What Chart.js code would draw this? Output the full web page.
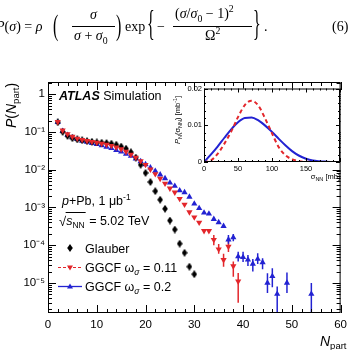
<!DOCTYPE html>
<html>
<head>
<meta charset="utf-8">
<script src="https://cdn.jsdelivr.net/npm/chart.js@4"></script>
<style>
  html, body { margin: 0; padding: 0; background: #fff; }
  #wrap { position: relative; width: 352px; height: 350px; overflow: hidden; }
  #main { position: absolute; left: 0; top: 0; }
  #inset { position: absolute; left: 165px; top: 82px; }
  #formula { position: absolute; left: 0; top: 0; width: 352px; height: 56px;
    font-family: 'Liberation Serif', 'Times New Roman', serif; font-size: 14px; color: #000; }
  #formula span, #formula div { position: absolute; line-height: 1; white-space: nowrap; }
  #formula .paren { font-size: 16px; transform: scale(1, 1.9); transform-origin: 0 0; }
  #formula .brace { font-size: 16px; transform: scale(1, 2.3); transform-origin: 0 0; }
  #formula .bar { height: 1px; background: #000; }
  #formula sub, #formula sup { font-size: 70%; line-height: 0; }
</style>
</head>
<body>
<div id="wrap">
  <canvas id="main" width="352" height="350"></canvas>
  <canvas id="inset" width="180" height="104"></canvas>
  <div id="formula">
    <span style="left:-4px; top:20px;"><i>P</i>(<i>σ</i>) = <i>ρ</i></span>
    <span class="paren" style="left:53px; top:10px;">(</span>
    <span style="left:90px; top:8px;"><i>σ</i></span>
    <div class="bar" style="left:72px; top:26px; width:43px;"></div>
    <span style="left:74px; top:29px;"><i>σ</i> + <i>σ</i><sub>0</sub></span>
    <span class="paren" style="left:116px; top:10px;">)</span>
    <span style="left:125px; top:20px;">exp</span>
    <span class="brace" style="left:147px; top:5px;">{</span>
    <span style="left:157px; top:20px;">−</span>
    <span style="left:175px; top:7px;">(<i>σ</i>/<i>σ</i><sub>0</sub> − 1)<sup>2</sup></span>
    <div class="bar" style="left:173px; top:26px; width:79px;"></div>
    <span style="left:205px; top:29px;">Ω<sup>2</sup></span>
    <span class="brace" style="left:253px; top:5px;">}</span>
    <span style="left:264px; top:20px;">.</span>
    <span style="left:332px; top:20px;">(6)</span>
  </div>
</div>
<script>
// N_part distributions, values
const nGlauber = [2, 3, 4, 5, 6, 7, 8, 9, 10, 11, 12, 13, 14, 15, 16, 17, 18, 19, 20, 21, 22, 23, 24, 25, 26, 27, 28, 29, 30];
const pGlauber = [0.18, 0.100, 0.078, 0.068, 0.063, 0.060, 0.057, 0.055, 0.053, 0.052, 0.051, 0.049, 0.046, 0.041, 0.036,
  0.029, 0.021, 0.0135, 0.0082, 0.0047, 0.0027, 0.0016, 0.00092, 0.00045, 0.00026, 0.00011, 0.000063, 0.000027, 0.000017];

const nGgcf011 = [2, 3, 4, 5, 6, 7, 8, 9, 10, 11, 12, 13, 14, 15, 16, 17, 18, 19, 20, 21, 22, 23, 24, 25, 26, 27, 28, 29, 30,
  31, 32, 33, 34, 35, 36, 37, 38, 39];
const pGgcf011 = [0.185, 0.110, 0.088, 0.075, 0.067, 0.062, 0.058, 0.055, 0.052, 0.049, 0.046, 0.043, 0.039, 0.035, 0.030,
  0.025, 0.021, 0.017, 0.0135, 0.0102, 0.0077, 0.0058, 0.0043, 0.0032, 0.0025, 0.0017, 0.0012, 0.00075, 0.00055,
  0.00040, 0.00024, 0.00024, 0.00014, 0.000078, 0.000041, 0.000092, 0.000028, 0.000011];

const nGgcf02 = [2, 3, 4, 5, 6, 7, 8, 9, 10, 11, 12, 13, 14, 15, 16, 17, 18, 19, 20, 21, 22, 23, 24, 25, 26, 27, 28, 29, 30,
  31, 32, 33, 34, 35, 36, 37, 38, 39, 40, 41, 42, 43, 44, 45, 46, 47, 49, 54];
const pGgcf02 = [0.18, 0.105, 0.083, 0.071, 0.064, 0.058, 0.054, 0.050, 0.047, 0.044, 0.040, 0.037, 0.033, 0.030, 0.026,
  0.023, 0.0195, 0.0165, 0.0138, 0.0113, 0.0092, 0.0074, 0.0059, 0.0045, 0.0037, 0.0028, 0.0025, 0.0019, 0.00125,
  0.00095, 0.00072, 0.00068, 0.00049, 0.00040, 0.00032, 0.00014, 0.00016, 0.000050, 0.000048, 0.000041, 0.000032,
  0.000043, 0.000035, 0.000010, 0.000015, 0.0000051, 0.000010, 0.0000051];

// vertical error bars where they are visible
const errN011 = [34, 35, 36, 37, 38, 39];
const errLo011 = [0.00010, 0.000059, 0.000027, 0.000066, 0.0000147, 0.0000030];
const errHi011 = [0.000186, 0.000107, 0.000059, 0.000129, 0.000037, 0.0000183];
const errN02 = [37, 38, 39, 40, 41, 42, 43, 44, 45, 46, 47, 49, 54];
const errLo02 = [0.00011, 0.000128, 0.000037, 0.000036, 0.000028, 0.000020, 0.000032, 0.000023, 0.0000054, 0.0000077, 0.000001, 0.0000054, 0.000001];
const errHi02 = [0.000186, 0.000197, 0.000067, 0.000067, 0.000055, 0.000043, 0.000061, 0.000045, 0.000018, 0.0000245, 0.000008, 0.000019, 0.000010];

// inset: P_N(sigma_NN)
const sigmaNN = [0, 10, 20, 30, 40, 50, 60, 70, 80, 90, 100, 110, 120, 130, 140, 150, 160, 170, 180, 190, 200];
const pSigma011 = [0, 0.0004, 0.0022, 0.0050, 0.0083, 0.0122, 0.0155, 0.0167, 0.0153, 0.0118, 0.0078, 0.0040, 0.0018,
  0.0007, 0.0002, 0.00005, 0, 0, 0, 0, 0];
const pSigma02 = [0, 0.0020, 0.0042, 0.0066, 0.0089, 0.0108, 0.0120, 0.0121, 0.0113, 0.0099, 0.0082, 0.0063, 0.0045,
  0.0029, 0.0017, 0.0009, 0.0004, 0.0002, 0.0001, 0.00003, 0];

const xTicksMain = [0, 10, 20, 30, 40, 50, 60];
const yDecadesMain = [1e-5, 1e-4, 1e-3, 1e-2, 1e-1, 1];
const xTicksInset = [0, 50, 100, 150, 200];
const yTicksInset = [0, 0.01, 0.02];

const RED = '#e3262b';
const BLUE = '#2222d2';
const SANS = "'Liberation Sans', Arial, sans-serif";
const f = (size, style) => (style ? style + ' ' : '') + size + 'px ' + SANS;
const SUP = { '-': '⁻', '1': '¹', '2': '²', '3': '³', '4': '⁴', '5': '⁵', '6': '⁶' };

// tall diamond marker like ROOT's
const diamond = document.createElement('canvas');
diamond.width = 6; diamond.height = 8;
(function () {
    const c = diamond.getContext('2d');
    c.fillStyle = '#000';
    c.beginPath(); c.moveTo(3, 0); c.lineTo(5.8, 4); c.lineTo(3, 8); c.lineTo(0.2, 4); c.closePath(); c.fill();
})();

function drawPieces(ctx, x, y, pieces) {
    pieces.forEach(p => {
        ctx.font = p.font;
        ctx.fillText(p.t, x, y + (p.dy || 0));
        x += ctx.measureText(p.t).width;
    });
    return x;
}
function measurePieces(ctx, pieces) {
    let w = 0;
    pieces.forEach(p => { ctx.font = p.font; w += ctx.measureText(p.t).width; });
    return w;
}

// frame with inward ticks on all four sides
const frameTicks = {
    id: 'frameTicks',
    afterDraw(chart, args, o) {
        const { ctx, chartArea: a, scales: { x, y } } = chart;
        ctx.save();
        ctx.strokeStyle = '#000';
        ctx.lineWidth = 1;
        ctx.beginPath();
        const vx = (vals, len) => vals.forEach(v => {
            const px = Math.round(x.getPixelForValue(v)) + 0.5;
            ctx.moveTo(px, a.bottom); ctx.lineTo(px, a.bottom - len);
            ctx.moveTo(px, a.top); ctx.lineTo(px, a.top + len);
        });
        const vy = (vals, len) => vals.forEach(v => {
            const py = Math.round(y.getPixelForValue(v)) + 0.5;
            ctx.moveTo(a.left, py); ctx.lineTo(a.left + len, py);
            ctx.moveTo(a.right, py); ctx.lineTo(a.right - len, py);
        });
        vx(o.xMajor, o.majorLen); vx(o.xMinor, o.minorLen);
        vy(o.yMajor, o.majorLen); vy(o.yMinor, o.minorLen);
        ctx.stroke();
        ctx.strokeRect(a.left + 0.5, a.top + 0.5, a.right - a.left - 1, a.bottom - a.top - 1);
        ctx.restore();
    }
};

const errorBars = {
    id: 'errorBars',
    beforeDatasetsDraw(chart, args, o) {
        const { ctx, chartArea: a, scales: { x, y } } = chart;
        ctx.save();
        ctx.beginPath(); ctx.rect(a.left, a.top, a.right - a.left, a.bottom - a.top); ctx.clip();
        o.sets.forEach(s => {
            ctx.strokeStyle = s.color;
            ctx.lineWidth = 1.5;
            ctx.beginPath();
            s.n.forEach((n, i) => {
                const px = x.getPixelForValue(n);
                ctx.moveTo(px, Math.min(y.getPixelForValue(s.lo[i]), a.bottom));
                ctx.lineTo(px, y.getPixelForValue(s.hi[i]));
            });
            ctx.stroke();
        });
        ctx.restore();
    }
};

const mainLabels = {
    id: 'mainLabels',
    afterDraw(chart) {
        const ctx = chart.ctx;
        ctx.save();
        ctx.fillStyle = '#000';
        ctx.textBaseline = 'alphabetic';
        ctx.textAlign = 'left';

        drawPieces(ctx, 59, 99.5, [{ t: 'ATLAS', font: f(12.5, 'italic bold') }, { t: ' Simulation', font: f(12.5) }]);
        drawPieces(ctx, 62, 205, [{ t: 'p', font: f(12.5, 'italic') }, { t: '+Pb, 1 μb', font: f(12.5) },
            { t: '-1', font: f(8.5), dy: -5 }]);

        // sqrt(s_NN)
        ctx.font = f(13);
        ctx.fillText('√', 59, 226);
        const xs = 59 + ctx.measureText('√').width;
        const xe = drawPieces(ctx, xs, 225, [{ t: 's', font: f(12.5, 'italic') }, { t: 'NN', font: f(8.5), dy: 3 }]);
        ctx.strokeStyle = '#000'; ctx.lineWidth = 1;
        ctx.beginPath(); ctx.moveTo(xs - 0.5, 212.5); ctx.lineTo(xe + 1, 212.5); ctx.stroke();
        drawPieces(ctx, xe + 1, 225, [{ t: ' = 5.02 TeV', font: f(12.5) }]);

        // legend
        const lx = 70;
        ctx.drawImage(diamond, lx - 3, 248 - 4);
        ctx.lineWidth = 1;
        ctx.strokeStyle = RED; ctx.setLineDash([3, 2]);
        ctx.beginPath(); ctx.moveTo(58, 267.5); ctx.lineTo(82, 267.5); ctx.stroke();
        ctx.setLineDash([]);
        ctx.strokeStyle = BLUE; ctx.lineWidth = 1.3;
        ctx.beginPath(); ctx.moveTo(58, 286.5); ctx.lineTo(82, 286.5); ctx.stroke();
        ctx.fillStyle = RED;
        ctx.beginPath(); ctx.moveTo(lx - 3, 265.5); ctx.lineTo(lx + 3, 265.5); ctx.lineTo(lx, 270.5); ctx.closePath(); ctx.fill();
        ctx.fillStyle = BLUE;
        ctx.beginPath(); ctx.moveTo(lx - 3, 288.5); ctx.lineTo(lx + 3, 288.5); ctx.lineTo(lx, 283.5); ctx.closePath(); ctx.fill();

        ctx.fillStyle = '#000';
        drawPieces(ctx, 85, 252.5, [{ t: 'Glauber', font: f(12.5) }]);
        drawPieces(ctx, 85, 271.5, [{ t: 'GGCF ω', font: f(12.5) }, { t: 'σ', font: f(8.5, 'italic'), dy: 3 },
            { t: ' = 0.11', font: f(12.5) }]);
        drawPieces(ctx, 85, 290.5, [{ t: 'GGCF ω', font: f(12.5) }, { t: 'σ', font: f(8.5, 'italic'), dy: 3 },
            { t: ' = 0.2', font: f(12.5) }]);

        // axis titles
        ctx.save();
        ctx.translate(16, 128);
        ctx.rotate(-Math.PI / 2);
        drawPieces(ctx, 0, 0, [{ t: 'P', font: f(14, 'italic') }, { t: '(', font: f(14) }, { t: 'N', font: f(14, 'italic') },
            { t: 'part', font: f(9.5), dy: 3 }, { t: ')', font: f(14) }]);
        ctx.restore();
        drawPieces(ctx, 320, 346, [{ t: 'N', font: f(14, 'italic') }, { t: 'part', font: f(9.5), dy: 3 }]);
        ctx.restore();
    }
};

const minorMainX = [];
for (let v = 0; v <= 60; v += 2) if (v % 10) minorMainX.push(v);
const minorMainY = [];
for (let k = -6; k <= 0; k++) for (let m = 2; m <= 9; m++) {
    const v = m * Math.pow(10, k);
    if (v > 1.6e-6 && v < 2.1) minorMainY.push(v);
}

const pts = (xs, ys) => xs.map((x, i) => ({ x, y: ys[i] }));

new Chart(document.getElementById('main'), {
    type: 'scatter',
    data: {
        datasets: [
            { label: 'GGCF ω = 0.11', data: pts(nGgcf011, pGgcf011), pointStyle: 'triangle', pointRotation: 180,
              pointRadius: 3.6, backgroundColor: RED, borderColor: RED, borderWidth: 0 },
            { label: 'Glauber', data: pts(nGlauber, pGlauber), pointStyle: diamond, pointRadius: 4,
              backgroundColor: '#000', borderColor: '#000' },
            { label: 'GGCF ω = 0.2', data: pts(nGgcf02, pGgcf02), pointStyle: 'triangle',
              pointRadius: 3.6, backgroundColor: BLUE, borderColor: BLUE, borderWidth: 0 }
        ]
    },
    options: {
        responsive: false,
        animation: false,
        devicePixelRatio: 1,
        layout: { padding: { left: 0, right: 8, top: 82, bottom: 0 } },
        plugins: {
            legend: { display: false },
            tooltip: { enabled: false },
            frameTicks: { xMajor: xTicksMain, xMinor: minorMainX, yMajor: yDecadesMain, yMinor: minorMainY, majorLen: 8, minorLen: 4 },
            errorBars: { sets: [
                { n: errN011, lo: errLo011, hi: errHi011, color: RED },
                { n: errN02, lo: errLo02, hi: errHi02, color: BLUE }
            ] }
        },
        scales: {
            x: {
                type: 'linear', min: 0, max: 60,
                afterBuildTicks(s) { s.ticks = xTicksMain.map(v => ({ value: v })); },
                ticks: { padding: 5, maxRotation: 0, color: '#000', font: { family: SANS, size: 11.5 } },
                grid: { display: false, drawTicks: false },
                border: { display: false },
                afterFit(s) { s.height = 37; }
            },
            y: {
                type: 'logarithmic', min: 1.6e-6, max: 2.1,
                afterBuildTicks(s) { s.ticks = yDecadesMain.map(v => ({ value: v, major: true })); },
                ticks: {
                    padding: 3, color: '#000', font: { family: SANS, size: 11.5 },
                    callback(v) {
                        const e = Math.round(Math.log10(v));
                        if (e === 0) return '1';
                        return '10' + String(e).split('').map(c => SUP[c]).join('');
                    }
                },
                grid: { display: false, drawTicks: false },
                border: { display: false },
                afterFit(s) { s.width = 48; }
            }
        }
    },
    plugins: [frameTicks, errorBars, mainLabels]
});

const insetLabels = {
    id: 'insetLabels',
    beforeDraw(chart) {
        const { ctx, chartArea: a } = chart;
        ctx.save();
        ctx.fillStyle = '#fff';
        ctx.fillRect(a.left, a.top, a.right - a.left, a.bottom - a.top);
        ctx.restore();
    },
    afterDraw(chart) {
        const ctx = chart.ctx;
        ctx.save();
        ctx.fillStyle = '#000';
        ctx.textAlign = 'left';
        ctx.textBaseline = 'alphabetic';
        ctx.save();
        ctx.translate(15, 62);
        ctx.rotate(-Math.PI / 2);
        drawPieces(ctx, 0, 0, [{ t: 'P', font: f(7.5, 'italic') }, { t: 'N', font: f(5.5), dy: 2 },
            { t: '(σ', font: f(7.5) }, { t: 'NN', font: f(5.5), dy: 2 }, { t: ') [mb', font: f(7.5) },
            { t: '-1', font: f(5.5), dy: -3 }, { t: ']', font: f(7.5) }]);
        ctx.restore();
        const xt = [{ t: 'σ', font: f(7.5) }, { t: 'NN', font: f(5.5), dy: 2 }, { t: ' [mb]', font: f(7.5) }];
        drawPieces(ctx, 175 - measurePieces(ctx, xt), 97, xt);
        ctx.restore();
    }
};

const minorInsetX = [];
for (let v = 0; v <= 200; v += 10) if (v % 50) minorInsetX.push(v);
const minorInsetY = [0.002, 0.004, 0.006, 0.008, 0.012, 0.014, 0.016, 0.018];

new Chart(document.getElementById('inset'), {
    type: 'scatter',
    data: {
        datasets: [
            { data: pts(sigmaNN, pSigma011), showLine: true, borderColor: RED, borderWidth: 2, borderDash: [4, 3],
              pointRadius: 0, cubicInterpolationMode: 'monotone', fill: false },
            { data: pts(sigmaNN, pSigma02), showLine: true, borderColor: BLUE, borderWidth: 2,
              pointRadius: 0, cubicInterpolationMode: 'monotone', fill: false }
        ]
    },
    options: {
        responsive: false,
        animation: false,
        devicePixelRatio: 1,
        layout: { padding: { left: 0, right: 5, top: 6, bottom: 0 } },
        plugins: {
            legend: { display: false },
            tooltip: { enabled: false },
            frameTicks: { xMajor: xTicksInset, xMinor: minorInsetX, yMajor: yTicksInset, yMinor: minorInsetY, majorLen: 4, minorLen: 2 }
        },
        scales: {
            x: {
                type: 'linear', min: 0, max: 200,
                afterBuildTicks(s) { s.ticks = xTicksInset.map(v => ({ value: v })); },
                ticks: { padding: 2, maxRotation: 0, color: '#000', font: { family: SANS, size: 7.5 },
                         callback: v => (v === 200 ? '' : String(v)) },
                grid: { display: false, drawTicks: false },
                border: { display: false },
                afterFit(s) { s.height = 24; }
            },
            y: {
                type: 'linear', min: 0, max: 0.02,
                afterBuildTicks(s) { s.ticks = yTicksInset.map(v => ({ value: v })); },
                ticks: { padding: 2, color: '#000', font: { family: SANS, size: 7.5 },
                         callback: v => (v === 0 ? '0' : v.toFixed(2)) },
                grid: { display: false, drawTicks: false },
                border: { display: false },
                afterFit(s) { s.width = 39; }
            }
        }
    },
    plugins: [insetLabels, frameTicks]
});
</script>
</body>
</html>
